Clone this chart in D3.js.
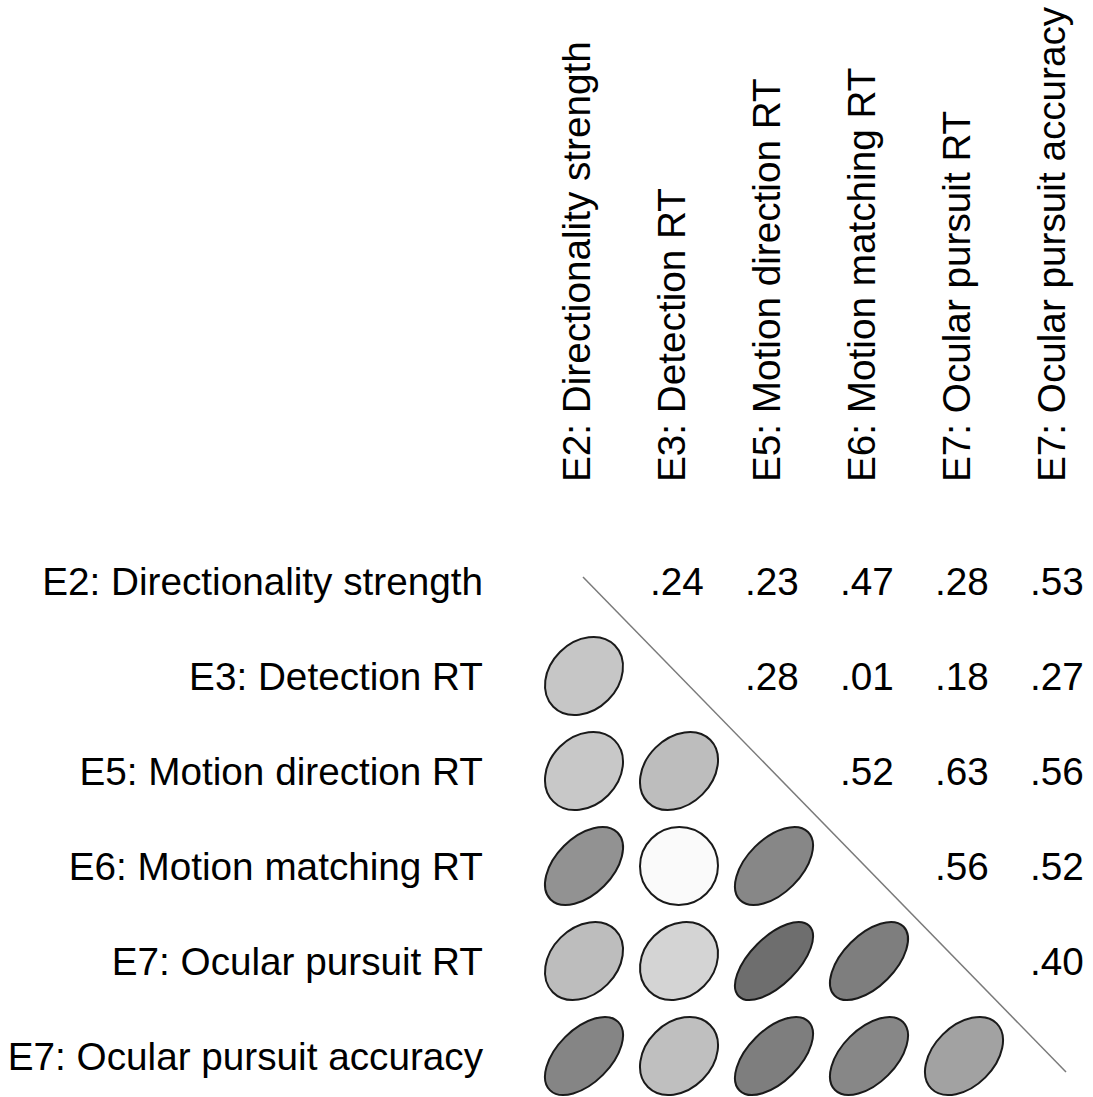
<!DOCTYPE html>
<html>
<head>
<meta charset="utf-8">
<script src="https://cdn.jsdelivr.net/npm/d3@7"></script>
<style>
  body { margin: 0; background: #fff; }
  svg { display: block; }
</style>
</head>
<body>
<div id="chart"></div>
<script>
// Variables and their pairwise correlations (upper triangle, row by row)
const variables = [
    "E2: Directionality strength",
    "E3: Detection RT",
    "E5: Motion direction RT",
    "E6: Motion matching RT",
    "E7: Ocular pursuit RT",
    "E7: Ocular pursuit accuracy"
];
const rowE2 = [0.24, 0.23, 0.47, 0.28, 0.53];
const rowE3 = [0.28, 0.01, 0.18, 0.27];
const rowE5 = [0.52, 0.63, 0.56];
const rowE6 = [0.56, 0.52];
const rowE7rt = [0.40];
const upperRows = [rowE2, rowE3, rowE5, rowE6, rowE7rt];

const width = 1093;
const height = 1097;

const svg = d3.select("#chart")
    .append("svg")
    .attr("width", width)
    .attr("height", height)
    .style("font-family", "'Liberation Sans', Arial, sans-serif");

// Build list of cells from the upper triangle
const cells = [];
upperRows.forEach((vals, i) => {
    vals.forEach((r, k) => {
        const j = i + 1 + k;
        cells.push({ row: i, col: j, r: r });
    });
});

// Positional scales for the matrix
const x = d3.scalePoint()
    .domain(d3.range(variables.length))
    .range([584, 1059]);
const y = d3.scalePoint()
    .domain(d3.range(variables.length))
    .range([581, 1056]);

// Grey shading by correlation strength
const fill = d3.scaleLinear()
    .domain([0, 1])
    .range(["#fcfcfc", "#1b1b1b"]);

const fontSize = 38.7;
const R = 39;

// Row labels
svg.append("g")
    .attr("text-anchor", "end")
    .style("font-size", fontSize + "px")
    .selectAll("text")
    .data(variables)
    .enter().append("text")
    .attr("x", 483)
    .attr("y", (d, i) => y(i))
    .attr("dy", "0.35em")
    .attr("fill", "#000")
    .text(d => d);

// Column labels (rotated)
svg.append("g")
    .attr("text-anchor", "start")
    .style("font-size", fontSize + "px")
    .selectAll("text")
    .data(variables)
    .enter().append("text")
    .attr("transform", (d, i) => `translate(${x(i) + 6},482) rotate(-90)`)
    .attr("fill", "#000")
    .text(d => d);

// Diagonal divider
svg.append("line")
    .attr("x1", x(0) - 1)
    .attr("y1", y(0) - 4)
    .attr("x2", x(variables.length - 1) + 7)
    .attr("y2", y(variables.length - 1) + 16)
    .attr("stroke", "#7a7a7a")
    .attr("stroke-width", 1.5);

// Correlation values in upper triangle
const fmt = v => d3.format(".2f")(v).replace(/^0/, "");
svg.append("g")
    .attr("text-anchor", "middle")
    .style("font-size", fontSize + "px")
    .selectAll("text")
    .data(cells)
    .enter().append("text")
    .attr("x", d => x(d.col) - 2)
    .attr("y", d => y(d.row))
    .attr("dy", "0.35em")
    .attr("fill", "#000")
    .text(d => fmt(d.r));

// Ellipses in lower triangle (mirror of the upper one)
svg.append("g")
    .selectAll("ellipse")
    .data(cells)
    .enter().append("ellipse")
    .attr("transform", d => `translate(${x(d.row)},${y(d.col)}) rotate(-45)`)
    .attr("rx", d => R * Math.sqrt(1 + d.r))
    .attr("ry", d => R * Math.sqrt(1 - d.r))
    .attr("fill", d => fill(d.r))
    .attr("stroke", "#1a1a1a")
    .attr("stroke-width", 2);
</script>
</body>
</html>
